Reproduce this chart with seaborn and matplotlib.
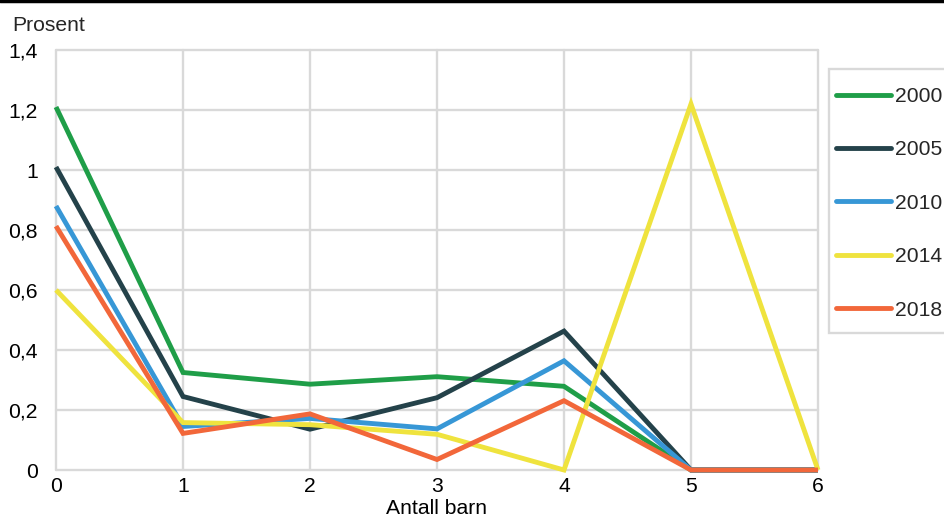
import matplotlib
matplotlib.use("Agg")
import matplotlib.pyplot as plt
from matplotlib.lines import Line2D
from matplotlib.patches import Rectangle
import seaborn as sns
import pandas as pd

# ---- data ----
antall_barn = [0, 1, 2, 3, 4, 5, 6]
years = ["2000", "2005", "2010", "2014", "2018"]
v2000 = [1.21, 0.325, 0.286, 0.311, 0.279, 0.0, 0.0]
v2005 = [1.01, 0.245, 0.136, 0.241, 0.463, 0.0, 0.0]
v2010 = [0.88, 0.145, 0.172, 0.137, 0.364, 0.0, 0.0]
v2014 = [0.60, 0.158, 0.151, 0.119, 0.0, 1.22, 0.0]
v2018 = [0.813, 0.122, 0.187, 0.035, 0.231, 0.0, 0.0]
colors = ["#1f9e48", "#24424a", "#3797d6", "#efe33e", "#f2673a"]
ytick_vals = [0, 0.2, 0.4, 0.6, 0.8, 1.0, 1.2, 1.4]
ytick_labels = ["0", "0,2", "0,4", "0,6", "0,8", "1", "1,2", "1,4"]

series = dict(zip(years, [v2000, v2005, v2010, v2014, v2018]))
df = pd.DataFrame(
    [(y, x, v) for y in years for x, v in zip(antall_barn, series[y])],
    columns=["year", "barn", "prosent"],
)

sns.set_style("white")
plt.rcParams["font.family"] = ["Liberation Sans", "DejaVu Sans"]
FS = 15.2
LW = 3.5

fig = plt.figure(figsize=(9.44, 5.19), dpi=100)
ax = fig.add_axes([56 / 944, 1 - 470 / 519, (818 - 56) / 944, (470 - 50) / 519])

sns.lineplot(
    data=df, x="barn", y="prosent", hue="year", hue_order=years,
    palette=colors, linewidth=LW, ax=ax, legend=False, zorder=3,
)
for ln in ax.get_lines():
    ln.set_solid_joinstyle("miter")
    ln.set_solid_capstyle("butt")
    ln.set_clip_on(False)

ax.set_xlim(0, 6)
ax.set_ylim(0, 1.4)
ax.set_xticks(antall_barn)
ax.set_xticklabels([str(x) for x in antall_barn], fontsize=FS)
ax.set_yticks(ytick_vals)
ax.set_yticklabels(ytick_labels, fontsize=FS)
ax.tick_params(axis="x", length=0, pad=5, colors="black")
ax.tick_params(axis="y", length=0, pad=13, colors="black")
ax.grid(True, color="#d9d9d9", linewidth=1.7, zorder=0)
for gl in ax.get_xgridlines() + ax.get_ygridlines():
    gl.set_clip_on(False)
ax.set_axisbelow(True)
for s in ax.spines.values():
    s.set_visible(False)
ax.set_xlabel("Antall barn", fontsize=FS, labelpad=2, color="black")
ax.set_ylabel("")

fig.text(12 / 944, 1 - 31 / 519, "Prosent", fontsize=FS, va="baseline", ha="left")

# top black rule
fig.add_artist(Line2D([0, 1], [1 - 1 / 519, 1 - 1 / 519], color="black",
                      linewidth=2.5, transform=fig.transFigure))

# legend frame
fig.add_artist(Rectangle((829 / 944, 1 - 333 / 519), 130 / 944, (333 - 69) / 519,
                         transform=fig.transFigure, facecolor="white",
                         edgecolor="#d9d9d9", linewidth=1.7, zorder=1))

handles = [Line2D([0], [0], color=c, linewidth=LW, solid_capstyle="round") for c in colors]
leg = fig.legend(
    handles, years, loc="upper left",
    bbox_to_anchor=(836 / 944, 1 - 87 / 519),
    fontsize=FS, frameon=False, borderpad=0,
    handlelength=2.6, handletextpad=0.2, labelspacing=1.63, borderaxespad=0,
)
leg.set_zorder(2)

fig.savefig("out.png", dpi=100)
